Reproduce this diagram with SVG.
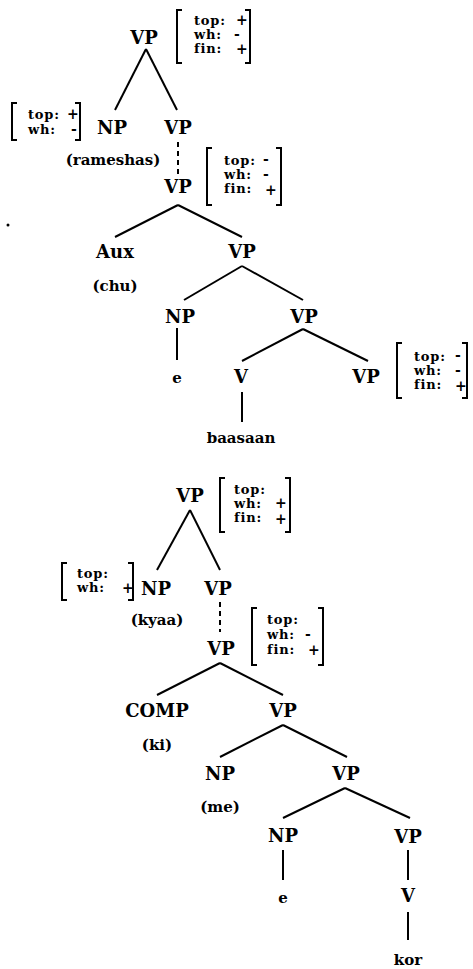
<svg xmlns="http://www.w3.org/2000/svg" width="473" height="969" viewBox="0 0 473 969">
<style>
.lbl{font-family:"DejaVu Serif","Liberation Serif",serif;font-weight:bold;font-size:18px;text-anchor:middle;fill:#000}
.wd{font-family:"DejaVu Serif","Liberation Serif",serif;font-weight:bold;font-size:15px;text-anchor:middle;fill:#000}
.ft{font-family:"DejaVu Serif","Liberation Serif",serif;font-weight:bold;font-size:13px;letter-spacing:0.8px;fill:#000}
.fv{font-size:14px;letter-spacing:0}
.br{fill:none;stroke:#000;stroke-width:2}
.e{stroke:#000;stroke-width:2;fill:none}
.d{stroke:#000;stroke-width:2;fill:none;stroke-dasharray:5 4}
</style>
<rect width="473" height="969" fill="#fff"/>
<g id="connectors">
<line class="e" x1="146" y1="49" x2="115" y2="110"/>
<line class="e" x1="146" y1="49" x2="177" y2="110"/>
<line class="d" x1="178" y1="142" x2="178" y2="175"/>
<line class="e" x1="178" y1="205" x2="115" y2="237"/>
<line class="e" x1="178" y1="205" x2="242" y2="237"/>
<line class="e" x1="242" y1="266" x2="184" y2="300"/>
<line class="e" x1="242" y1="266" x2="303" y2="300"/>
<line class="e" x1="177" y1="328" x2="177" y2="360"/>
<line class="e" x1="303" y1="329" x2="242" y2="361"/>
<line class="e" x1="303" y1="329" x2="368" y2="361"/>
<line class="e" x1="242" y1="392" x2="242" y2="422"/>
<line class="e" x1="190" y1="510" x2="157" y2="570"/>
<line class="e" x1="190" y1="510" x2="220" y2="570"/>
<line class="d" x1="220" y1="602" x2="220" y2="632"/>
<line class="e" x1="220" y1="663" x2="157" y2="695"/>
<line class="e" x1="220" y1="663" x2="283" y2="695"/>
<line class="e" x1="283" y1="725" x2="220" y2="757"/>
<line class="e" x1="283" y1="725" x2="347" y2="757"/>
<line class="e" x1="345" y1="788" x2="283" y2="818"/>
<line class="e" x1="345" y1="788" x2="410" y2="818"/>
<line class="e" x1="283" y1="850" x2="283" y2="880"/>
<line class="e" x1="408" y1="850" x2="408" y2="880"/>
<line class="e" x1="408" y1="912" x2="408" y2="940"/>
</g>
<g id="t1-vp0">
<text class="lbl" x="144" y="44">VP</text>
<path class="br" d="M182,10 H177 V63 H182 M245,10 H250 V63 H245"/>
<text class="ft"><tspan x="194" y="25">top:</tspan><tspan class="fv" x="236" y="25">+</tspan><tspan x="194" y="39">wh:</tspan><tspan class="fv" x="234" y="39">-</tspan><tspan x="194" y="53">fin:</tspan><tspan class="fv" x="236" y="54">+</tspan></text>
</g>
<g id="t1-np1">
<text class="lbl" x="112" y="134">NP</text>
<text class="wd" x="113" y="165">(rameshas)</text>
<path class="br" d="M17,103 H12 V140 H17 M75,103 H80 V140 H75"/>
<text class="ft"><tspan x="28" y="119">top:</tspan><tspan class="fv" x="67" y="119">+</tspan><tspan x="28" y="134">wh:</tspan><tspan class="fv" x="71" y="134">-</tspan></text>
</g>
<g id="t1-vp1"><text class="lbl" x="178" y="134">VP</text></g>
<g id="t1-vp2">
<text class="lbl" x="178" y="193">VP</text>
<path class="br" d="M212,148 H207 V205 H212 M276,148 H281 V205 H276"/>
<text class="ft"><tspan x="224" y="165">top:</tspan><tspan class="fv" x="263" y="164">-</tspan><tspan x="224" y="179">wh:</tspan><tspan class="fv" x="263" y="179">-</tspan><tspan x="224" y="193">fin:</tspan><tspan class="fv" x="265" y="195">+</tspan></text>
</g>
<g id="t1-aux"><text class="lbl" x="115" y="258">Aux</text><text class="wd" x="115" y="291">(chu)</text></g>
<g id="t1-vp3"><text class="lbl" x="242" y="258">VP</text></g>
<g id="t1-np4"><text class="lbl" x="180" y="323">NP</text></g>
<g id="t1-e"><text class="wd" x="177" y="383">e</text></g>
<g id="t1-vp4"><text class="lbl" x="304" y="323">VP</text></g>
<g id="t1-v"><text class="lbl" x="241" y="383">V</text></g>
<g id="t1-baasaan"><text class="wd" x="241" y="443">baasaan</text></g>
<g id="t1-vp5">
<text class="lbl" x="366" y="383">VP</text>
<path class="br" d="M402,343 H397 V398 H402 M462,343 H467 V398 H462"/>
<text class="ft"><tspan x="414" y="361">top:</tspan><tspan class="fv" x="455" y="360">-</tspan><tspan x="414" y="375">wh:</tspan><tspan class="fv" x="455" y="375">-</tspan><tspan x="414" y="389">fin:</tspan><tspan class="fv" x="455" y="391">+</tspan></text>
</g>
<circle id="speck" cx="8" cy="225" r="1.5" fill="#000"/>
<g id="t2-vp0">
<text class="lbl" x="190" y="502">VP</text>
<path class="br" d="M225,478 H220 V532 H225 M285,478 H290 V532 H285"/>
<text class="ft"><tspan x="234" y="494">top:</tspan><tspan x="234" y="508">wh:</tspan><tspan class="fv" x="275" y="508">+</tspan><tspan x="234" y="522">fin:</tspan><tspan class="fv" x="275" y="524">+</tspan></text>
</g>
<g id="t2-np1">
<text class="lbl" x="156" y="595">NP</text>
<text class="wd" x="157" y="625">(kyaa)</text>
<path class="br" d="M67,563 H62 V600 H67 M128,563 H133 V600 H128"/>
<text class="ft"><tspan x="77" y="578">top:</tspan><tspan x="77" y="592">wh:</tspan><tspan class="fv" x="122" y="593">+</tspan></text>
</g>
<g id="t2-vp1"><text class="lbl" x="218" y="595">VP</text></g>
<g id="t2-vp2">
<text class="lbl" x="221" y="655">VP</text>
<path class="br" d="M257,608 H252 V665 H257 M318,608 H323 V665 H318"/>
<text class="ft"><tspan x="267" y="624">top:</tspan><tspan x="267" y="639">wh:</tspan><tspan class="fv" x="305" y="639">-</tspan><tspan x="267" y="654">fin:</tspan><tspan class="fv" x="308" y="655">+</tspan></text>
</g>
<g id="t2-comp"><text class="lbl" x="157" y="717">COMP</text><text class="wd" x="157" y="750">(ki)</text></g>
<g id="t2-vp3"><text class="lbl" x="283" y="717">VP</text></g>
<g id="t2-np4"><text class="lbl" x="220" y="780">NP</text><text class="wd" x="220" y="812">(me)</text></g>
<g id="t2-vp4"><text class="lbl" x="346" y="780">VP</text></g>
<g id="t2-np5"><text class="lbl" x="283" y="842">NP</text></g>
<g id="t2-e"><text class="wd" x="283" y="903">e</text></g>
<g id="t2-vp5"><text class="lbl" x="408" y="843">VP</text></g>
<g id="t2-v"><text class="lbl" x="408" y="902">V</text></g>
<g id="t2-kor"><text class="wd" x="408" y="965">kor</text></g>
</svg>
